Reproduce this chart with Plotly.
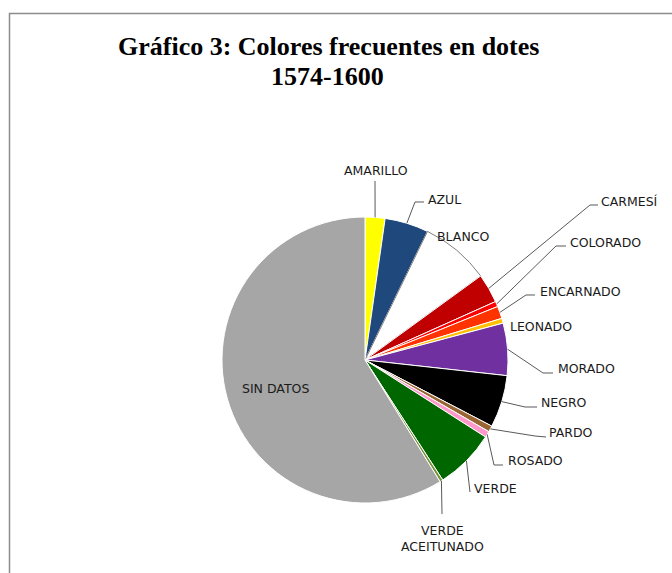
import math
import plotly.graph_objects as go

# ---- data ----
categories = ["AMARILLO", "AZUL", "BLANCO", "CARMESÍ", "COLORADO", "ENCARNADO",
              "LEONADO", "MORADO", "NEGRO", "PARDO", "ROSADO", "VERDE",
              "VERDE ACEITUNADO", "SIN DATOS"]
values = [2.25, 4.95, 7.8, 3.3, 0.6, 1.4, 0.55, 5.9, 5.9, 0.7, 0.7, 6.8, 0.35, 58.8]
label_texts = ["AMARILLO", "AZUL", "BLANCO", "CARMESÍ", "COLORADO", "ENCARNADO",
               "LEONADO", "MORADO", "NEGRO", "PARDO", "ROSADO", "VERDE",
               "VERDE<br>ACEITUNADO", "SIN DATOS"]
title_lines = ["Gráfico 3: Colores frecuentes en dotes", "1574-1600"]

# ---- styles / layout ----
colors = ["#FFFF00", "#1F497D", "#FFFFFF", "#C00000", "#FF0000", "#FF3300",
          "#FFC000", "#7030A0", "#000000", "#996633", "#FF99CC", "#006600",
          "#77933C", "#A6A6A6"]
line_colors = ["#FFFFFF", "#FFFFFF", "#7F7F7F", "#FFFFFF", "#FFFFFF", "#FFFFFF",
               "#FFFFFF", "#FFFFFF", "#FFFFFF", "#FFFFFF", "#FFFFFF", "#FFFFFF",
               "#FFFFFF", "#FFFFFF"]

W, H = 672, 573
CX, CY, R = 365, 360, 143

# label placement (pixels): text x, text y, xanchor, leader path points after the slice anchor
label_layout = [
    (376, 170, "center", [(375, 181)]),
    (426, 199, "left", [(415, 202), (424, 202)]),
    (463, 236, "center", None),
    (599, 202, "left", [(590, 205), (598, 205)]),
    (568, 243, "left", [(556, 246), (566, 246)]),
    (538, 291, "left", [(526, 295), (535, 295)]),
    (508, 326, "left", None),
    (556, 368, "left", [(543, 373), (553, 373)]),
    (539, 403, "left", [(525, 407), (537, 407)]),
    (547, 432, "left", [(535, 436), (546, 437)]),
    (506, 460, "left", [(494, 465), (503, 465)]),
    (472, 488, "left", [(470, 492)]),
    (442, 538, "center", [(442, 514)]),
    (275, 388, "center", None),
]


def px(x):
    return x / W


def py(y):
    return 1 - y / H


fig = go.Figure(go.Pie(
    labels=categories,
    values=values,
    sort=False,
    direction="clockwise",
    rotation=0,
    textinfo="none",
    hoverinfo="label+percent",
    marker=dict(colors=colors, line=dict(color=line_colors, width=1)),
    domain=dict(x=[px(CX - R), px(CX + R)], y=[py(CY + R), py(CY - R)]),
    showlegend=False,
))

total = sum(values)
cum = 0.0
shapes = []
annotations = []
for val, txt, (tx, ty, xa, path) in zip(values, label_texts, label_layout):
    mid = (cum + val / 2) / total * 2 * math.pi
    cum += val
    ax_ = CX + R * math.sin(mid)
    ay_ = CY - R * math.cos(mid)
    if path:
        pts = [(ax_, ay_)] + path
        d = "M " + " L ".join(f"{px(x):.5f},{py(y):.5f}" for x, y in pts)
        shapes.append(dict(type="path", xref="paper", yref="paper", path=d,
                           line=dict(color="#595959", width=1)))
    annotations.append(dict(
        x=px(tx), y=py(ty), xref="paper", yref="paper", text=txt,
        showarrow=False, xanchor=xa, yanchor="middle", align="center",
        font=dict(family="DejaVu Sans", size=12.5, color="#1a1a1a"),
    ))

annotations.append(dict(x=px(328), y=py(46), xref="paper", yref="paper",
                        text=f"<b>{title_lines[0]}</b>", showarrow=False,
                        xanchor="center", yanchor="middle",
                        font=dict(family="Liberation Serif", size=26, color="#000000")))
annotations.append(dict(x=px(327), y=py(76), xref="paper", yref="paper",
                        text=f"<b>{title_lines[1]}</b>", showarrow=False,
                        xanchor="center", yanchor="middle",
                        font=dict(family="Liberation Serif", size=26, color="#000000")))

# chart border
shapes.append(dict(type="rect", xref="paper", yref="paper",
                   x0=px(9.5), y0=py(590), x1=px(690), y1=py(13.5),
                   line=dict(color="#8C8C8C", width=1.5), layer="below"))

fig.update_layout(
    width=W, height=H,
    margin=dict(l=0, r=0, t=0, b=0),
    paper_bgcolor="#FFFFFF",
    plot_bgcolor="#FFFFFF",
    shapes=shapes,
    annotations=annotations,
)

fig.write_html("out.html",
               config={"displayModeBar": False},
               post_script="document.body.style.margin='0';document.body.style.padding='0';")
